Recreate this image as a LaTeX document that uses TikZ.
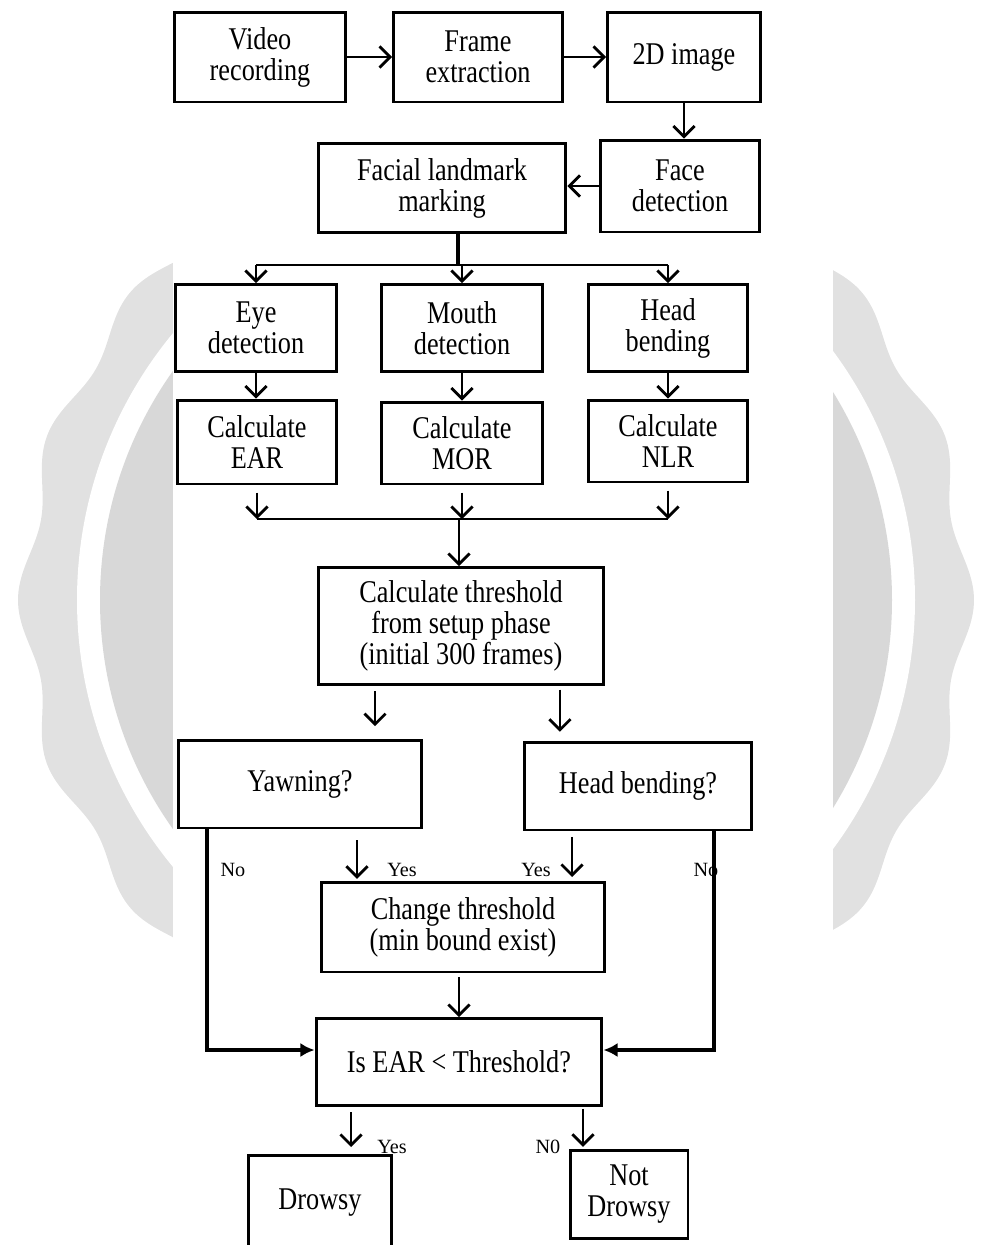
\documentclass[tikz,border=0pt]{standalone}
\usepackage{fontspec}
\setmainfont{Liberation Serif}[FakeStretch=0.83]
\newfontfamily\lblfont{Liberation Serif}
\usepackage{tikz}
\usetikzlibrary{positioning, arrows.meta, calc}
\usepackage{xcolor}
\definecolor{wmouter}{HTML}{E1E1E1}
\definecolor{wminner}{HTML}{D8D8D8}

\begin{document}
\begin{tikzpicture}[
  x=0.02cm, y=-0.02cm,
  every node/.style={font=\fontsize{18}{17.7}\selectfont},
  box/.style={draw, line width=1.7pt, align=center, inner sep=1pt},
  arr/.style={-{Straight Barb[length=6pt, width=12pt]}, line width=1.6pt},
  noline/.style={-{Latex[length=8pt, width=8pt]}, line width=2.6pt},
  lbl/.style={font=\lblfont\fontsize{11.5}{13}\selectfont, inner sep=0pt}
]
\useasboundingbox (0,0) rectangle (984,1245);

% watermark seal behind the chart
\begin{scope}[shift={(496,600)}]
  \fill[wmouter] plot[domain=0:360, samples=361, smooth] (\x:{470+8*cos(18*\x)}) -- cycle;
  \fill[white] (0,0) circle[radius=419];
  \fill[wminner] (0,0) circle[radius=396];
\end{scope}
\fill[white] (173,0) rectangle (833,1245);

% capture chain
\node[box, minimum width=3.42cm, minimum height=1.80cm] (video) at (260,57) {Video\\recording};
\node[box, minimum width=3.38cm, minimum height=1.80cm] (frame) at (478,57) {Frame\\extraction};
\node[box, minimum width=3.06cm, minimum height=1.80cm] (img2d) at (684,57) {2D image};
\node[box, minimum width=3.20cm, minimum height=1.84cm] (face) at (680,186) {Face\\detection};
\node[box, minimum width=4.96cm, minimum height=1.78cm] (landmark) at (442,188) {Facial landmark\\marking};

\draw[arr] (video) -- (frame);
\draw[arr] (frame) -- (img2d);
\draw[arr] (img2d.south) -- (img2d.south |- face.north);
\draw[arr] (face.west) -- (face.west -| landmark.east);

% three feature branches
\node[box, minimum width=3.22cm, minimum height=1.74cm] (eye) at (256,328) {Eye\\detection};
\node[box, minimum width=3.22cm, minimum height=1.74cm] (mouth) at (462,328) {Mouth\\detection};
\node[box, minimum width=3.20cm, minimum height=1.74cm] (head) at (668,328) {Head\\bending};

\node[box, minimum width=3.20cm, minimum height=1.68cm] (ear) at (257,442) {Calculate\\EAR};
\node[box, minimum width=3.22cm, minimum height=1.64cm] (mor) at (462,443) {Calculate\\MOR};
\node[box, minimum width=3.20cm, minimum height=1.64cm] (nlr) at (668,441) {Calculate\\NLR};

\coordinate (fork) at (458,265);
\draw[line width=2pt] (landmark.south -| fork) -- (fork);
\draw[line width=1.6pt] (eye.north |- fork) -- (head.north |- fork);
\foreach \n in {eye, mouth, head}
  \draw[arr] (\n.north |- fork) -- (\n.north);
\foreach \a/\b in {eye/ear, mouth/mor, head/nlr}
  \draw[arr] (\a.south) -- (\a.south |- \b.north);

% merge into threshold
\node[box, minimum width=5.72cm, minimum height=2.34cm] (thresh) at (461,626) {Calculate threshold\\from setup phase\\(initial 300 frames)};

\coordinate (join) at (459,519);
\foreach \n in {ear, mor, nlr}
  \draw[arr, shorten <=4pt] (\n.south) -- (\n.south |- join);
\draw[line width=1.6pt] (ear.south |- join) -- (nlr.south |- join);
\draw[arr] (join) -- (join |- thresh.north);

% checks
\node[box, minimum width=4.86cm, minimum height=1.76cm] (yawn) at (300,784) {Yawning?};
\node[box, minimum width=4.54cm, minimum height=1.76cm] (headq) at (638,786) {Head bending?};
\node[box, minimum width=5.68cm, minimum height=1.80cm] (change) at (463,927) {Change threshold\\(min bound exist)};
\node[box, minimum width=5.72cm, minimum height=1.74cm] (isear) at (459,1062) {Is EAR < Threshold?};

\draw[arr, shorten <=3pt, shorten >=7pt] ([xshift=-1.72cm]thresh.south) -- ([xshift=-1.72cm]thresh.south |- yawn.north);
\draw[arr, shorten <=2pt, shorten >=5pt] ([xshift=1.98cm]thresh.south) -- ([xshift=1.98cm]thresh.south |- headq.north);

\draw[arr, shorten <=6pt, shorten >=1pt] ([xshift=1.14cm]yawn.south) -- ([xshift=1.14cm]yawn.south |- change.north);
\draw[arr, shorten <=3pt, shorten >=2pt] ([xshift=-1.32cm]headq.south) -- ([xshift=-1.32cm]headq.south |- change.north);
\draw[arr, shorten <=2pt] (isear.north |- change.south) -- (isear.north);

\node[lbl] (yno) at (233,870) {No};
\node[lbl] (yyes) at (402,870) {Yes};
\node[lbl] (hyes) at (536,870) {Yes};
\node[lbl] (hno) at (706,870) {No};

\coordinate (nol) at (207,1050);
\coordinate (nor) at (714,1050);
\draw[noline] (yawn.south -| nol) -- (nol) -- (nol -| isear.west);
\draw[noline] (headq.south -| nor) -- (nor) -- (nor -| isear.east);

% outcome
\node[box, minimum width=2.88cm, minimum height=1.90cm] (drowsy) at (320,1203) {Drowsy};
\node[box, minimum width=2.36cm, minimum height=1.76cm] (notdrowsy) at (629,1194) {Not\\Drowsy};

\draw[arr, shorten <=3pt, shorten >=4pt] ([xshift=-2.16cm]isear.south) -- ([xshift=-2.16cm]isear.south |- drowsy.north);
\draw[arr, shorten <=1pt, shorten >=1pt] ([xshift=2.48cm]isear.south) -- ([xshift=2.48cm]isear.south |- notdrowsy.north);

\node[lbl] (dyes) at (392,1147) {Yes};
\node[lbl] (dno) at (548,1147) {N0};

\end{tikzpicture}
\end{document}
